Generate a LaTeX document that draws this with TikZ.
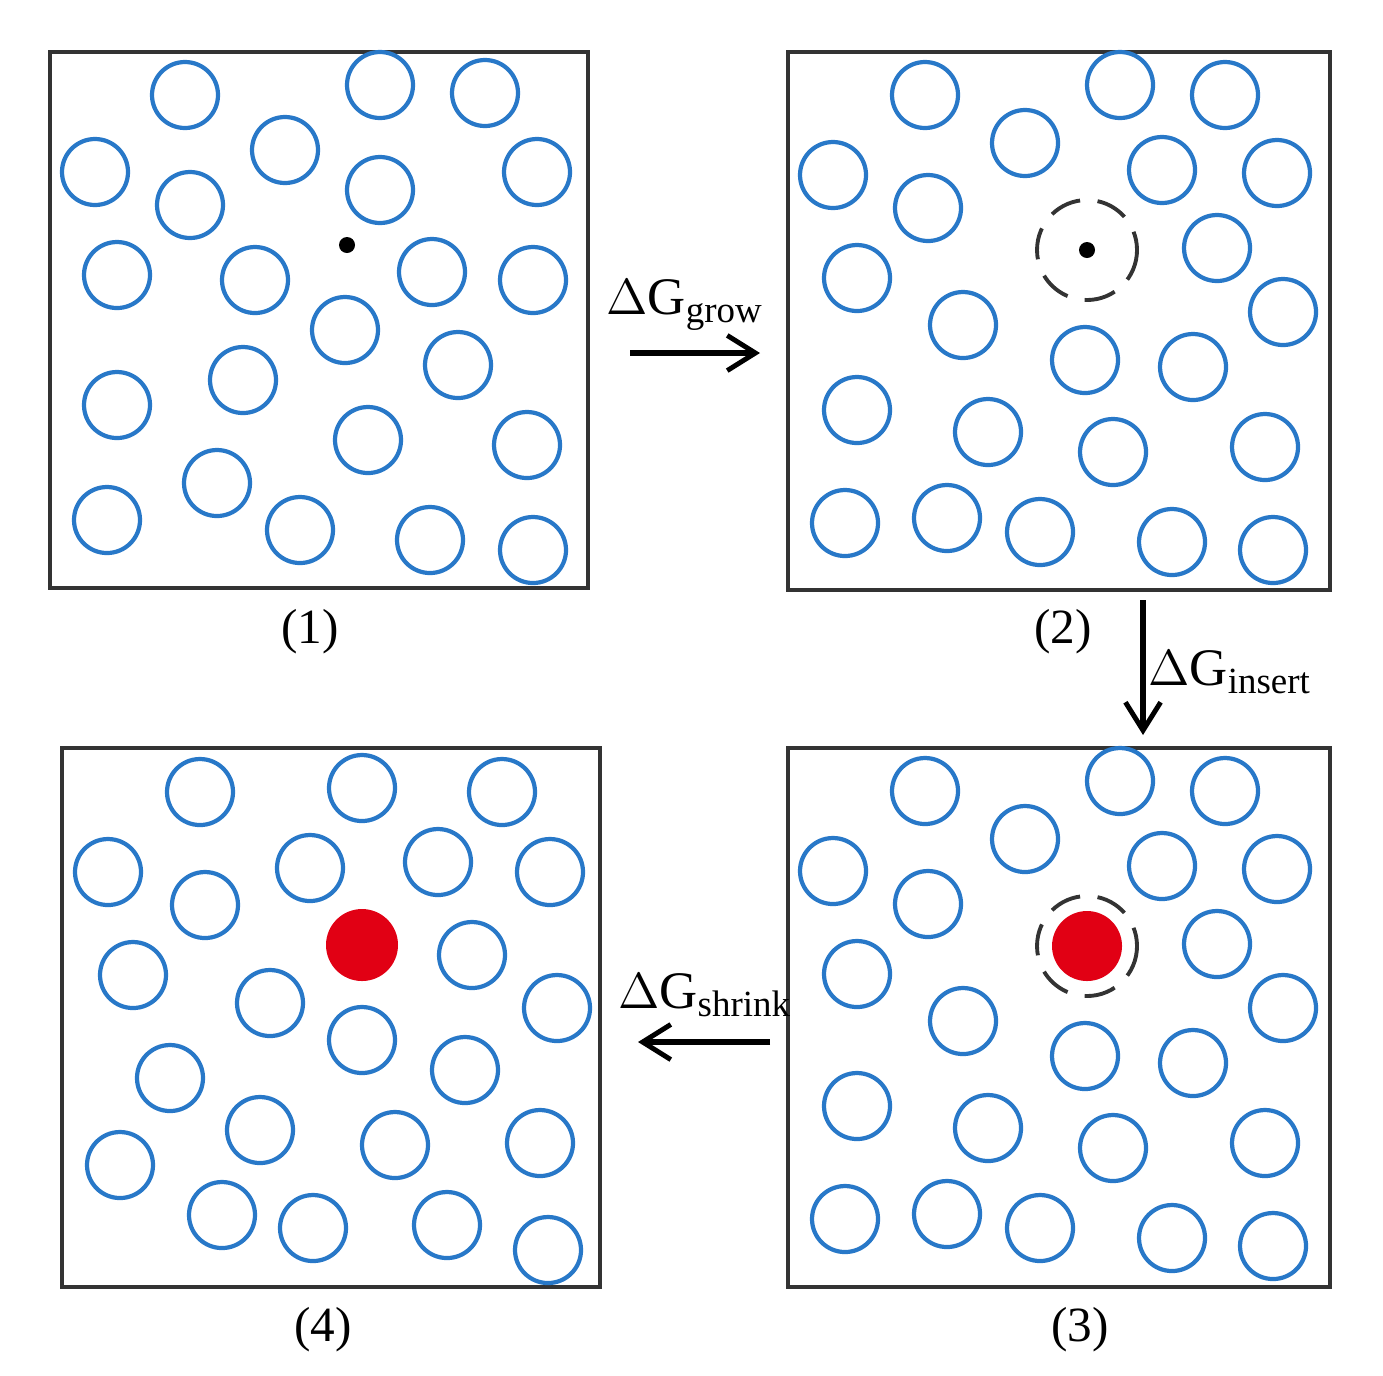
\documentclass[tikz,border=0pt]{standalone}
\usepackage{fontspec}
\setmainfont{Liberation Serif}
\usetikzlibrary{arrows.meta}
\begin{document}
\begin{tikzpicture}[x=0.01cm,y=-0.01cm,
  mol/.style={draw=molblue,line width=1.2pt},
  panel/.style={draw=black!80,line width=1.3pt},
  dashring/.style={draw=black!80,line width=1.1pt,dash pattern=on 9pt off 5pt},
  arr/.style={-{Straight Barb[length=8pt,width=10pt,line width=1.4pt]},line width=1.6pt},
  lab/.style={font=\fontsize{14}{16}\selectfont},
  glab/.style={font=\fontsize{15}{17}\selectfont}]
\definecolor{molblue}{RGB}{40,120,200}
\definecolor{molred}{RGB}{225,0,20}
\useasboundingbox (0,0) rectangle (1383,1375);
% panels
\draw[panel] (50,52) rectangle (588,588);
\draw[panel] (788,52) rectangle (1330,590);
\draw[panel] (788,748) rectangle (1330,1287);
\draw[panel] (62,748) rectangle (600,1287);
% panel 1
\foreach \x/\y in {185/95,380/85,485/93,95/172,285/150,190/205,380/190,537/172,117/275,255/280,432/272,533/280,345/330,243/380,458/365,117/405,368/440,527/445,217/483,107/520,300/530,430/540,533/550}
  \draw[mol] (\x,\y) circle (33);
\fill (347,245) circle (8);
% panels 2 and 3
\foreach \dy in {0,696}{
\foreach \x/\y in {925/95,1120/85,1225/95,1025/143,833/175,1162/170,1277/173,928/208,1217/248,857/278,1283/312,963/325,1085/360,1193/367,857/410,988/432,1113/452,1265/447,845/523,947/518,1040/532,1172/542,1273/550}
  \draw[mol] (\x,\y+\dy) circle (33);
\draw[dashring] (1087,250+\dy) circle (50);
}
\fill (1087,250) circle (8);
\fill[molred] (1087,946) circle (35);
% panel 4
\foreach \x/\y in {200/792,362/788,502/792,108/872,310/868,438/862,550/872,205/905,133/975,472/955,270/1003,557/1008,362/1040,170/1078,465/1070,260/1130,395/1145,540/1143,120/1165,222/1215,313/1228,447/1225,548/1250}
  \draw[mol] (\x,\y) circle (33);
\fill[molred] (362,945) circle (36);
% arrows
\coordinate (a1) at (630,353); \coordinate (b1) at (760,353);
\coordinate (a2) at (1143,600); \coordinate (b2) at (1143,735);
\coordinate (a3) at (770,1042); \coordinate (b3) at (638,1042);
\draw[arr] (a1) -- (b1);
\draw[arr] (a2) -- (b2);
\draw[arr] (a3) -- (b3);
\node[glab] (g1) at (685,305) {$\Delta$G\textsubscript{grow}};
\node[glab] (g2) at (1230,672) {$\Delta$G\textsubscript{insert}};
\node[glab] (g3) at (705,995) {$\Delta$G\textsubscript{shrink}};
% labels
\node[lab] (l1) at (310,632) {(1)};
\node[lab] (l2) at (1063,632) {(2)};
\node[lab] (l4) at (323,1330) {(4)};
\node[lab] (l3) at (1080,1330) {(3)};
\end{tikzpicture}
\end{document}
